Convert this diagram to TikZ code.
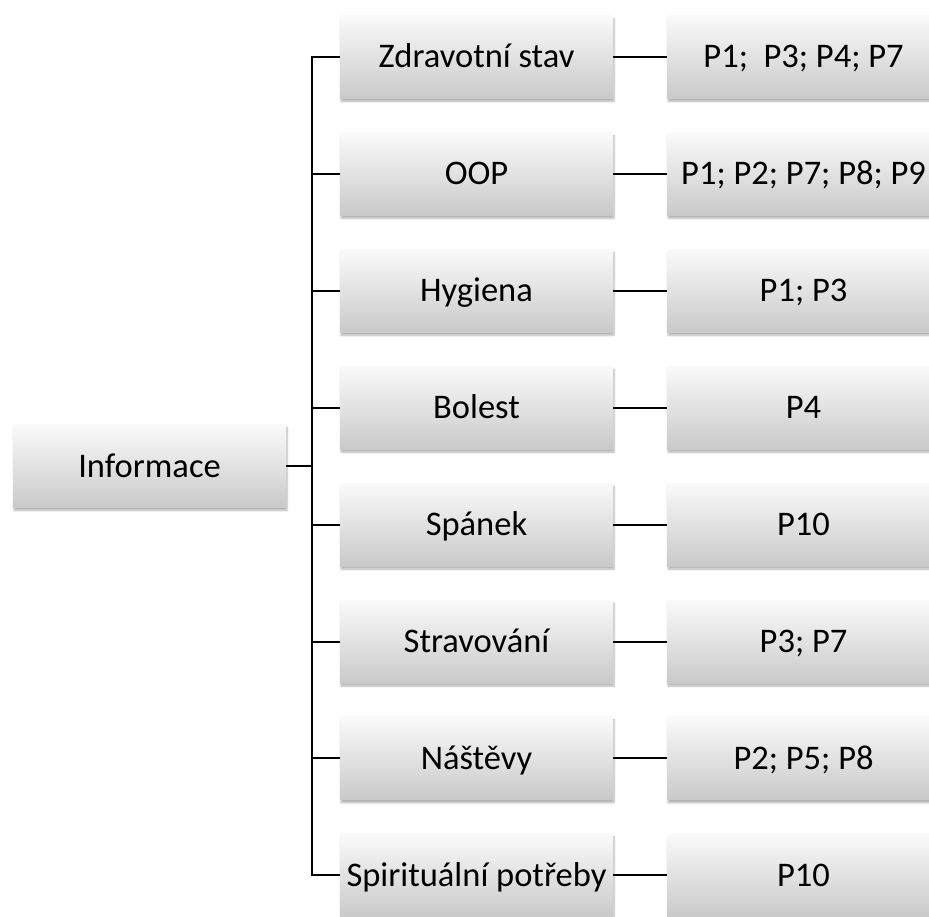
\documentclass[tikz,border=0pt]{standalone}
\usepackage{fontspec}
\setmainfont{Carlito}
\usetikzlibrary{positioning,shadows.blur}

\begin{document}
\begin{tikzpicture}[x=1pt, y=-1pt, node distance={116.9pt and 327pt}, on grid,
    main/.style = {rectangle, minimum width=273pt, minimum height=83pt, inner sep=0pt,
        text height=26pt, text depth=4pt,
        top color=gray!4, bottom color=gray!42,
        blur shadow={shadow xshift=1pt, shadow yshift=-3pt, shadow blur steps=6, shadow opacity=30},
        font=\fontsize{34.5}{40}\selectfont},
    link/.style = {line width=2pt}]
    \useasboundingbox (0,0) rectangle (929,917);

    \node[main] (Info) at (149.5,466) {Informace};

    \node[main] (Zdrav) at (476.5,57) {Zdravotní stav};
    \node[main] (OOP) [below=of Zdrav] {OOP};
    \node[main] (Hyg) [below=of OOP] {Hygiena};
    \node[main] (Bol) [below=of Hyg] {Bolest};
    \node[main] (Span) [below=of Bol] {Spánek};
    \node[main] (Strav) [below=of Span] {Stravování};
    \node[main] (Nast) [below=of Strav] {Náštěvy};
    \node[main] (Spir) [below=of Nast] {Spirituální potřeby};

    \node[main] (PZdrav) [right=of Zdrav] {P1;\ \ P3; P4; P7};
    \node[main] (POOP) [right=of OOP] {P1; P2; P7; P8; P9};
    \node[main] (PHyg) [right=of Hyg] {P1; P3};
    \node[main] (PBol) [right=of Bol] {P4};
    \node[main] (PSpan) [right=of Span] {P10};
    \node[main] (PStrav) [right=of Strav] {P3; P7};
    \node[main] (PNast) [right=of Nast] {P2; P5; P8};
    \node[main] (PSpir) [right=of Spir] {P10};

    % tree lines
    \coordinate (hub) at (312,466);
    \draw[link, line width=2.8pt] (Info) -- (hub);
    \foreach \n in {Zdrav, OOP, Hyg, Bol, Span, Strav, Nast, Spir} {
        \draw[link] (hub) |- (\n.west);
        \draw[link] (\n) -- (P\n);
    }
\end{tikzpicture}
\end{document}
